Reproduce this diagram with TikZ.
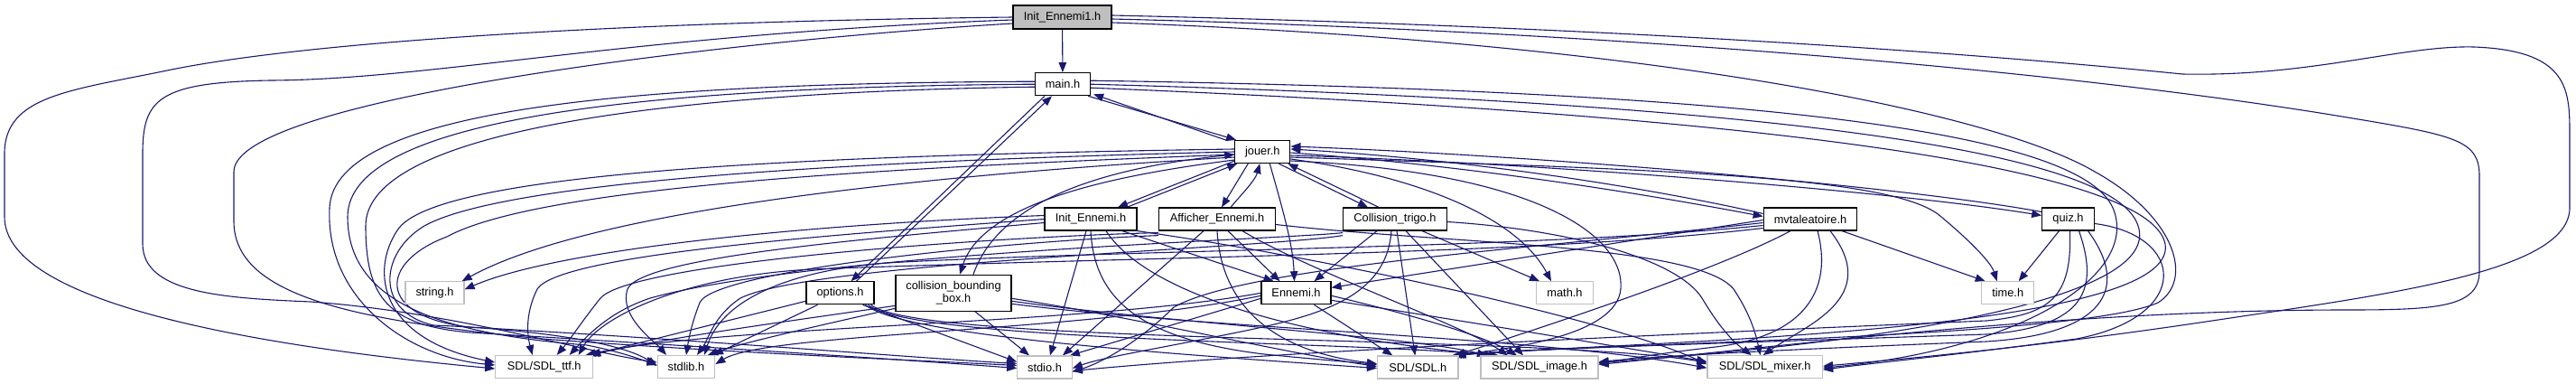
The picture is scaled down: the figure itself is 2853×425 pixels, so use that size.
\documentclass[tikz,border=0pt]{standalone}
\usepackage{fontspec}
\setmainfont{Liberation Sans}
\usetikzlibrary{arrows.meta}
\definecolor{edgec}{HTML}{191970}
\definecolor{rootfill}{HTML}{BFBFBF}
\definecolor{extb}{HTML}{BFBFBF}
\pgfdeclarelayer{bg}
\pgfsetlayers{bg,main}
\begin{document}
\begin{tikzpicture}[x=1pt,y=-1pt,
  every node/.style={font=\fontsize{12.8}{14}\selectfont},
  box/.style={draw=black, line width=1.2pt, fill=white, inner sep=0pt, minimum height=25pt},
  ext/.style={draw=extb, line width=1.2pt, fill=white, inner sep=0pt, minimum height=25pt},
  rootbox/.style={box, fill=rootfill, minimum height=26pt},
  e/.style={draw=edgec, line width=1.1pt, -{Triangle[length=11pt,width=8.5pt]}}]
\useasboundingbox (0,0) rectangle (2853,425);
% nodes
\node[rootbox, minimum width=109pt] (root) at (1176.5,19) {Init\_Ennemi1.h};
\node[box, minimum width=61pt] (main) at (1177,93.2) {main.h};
\node[box, minimum width=61pt] (jouer) at (1398.3,168) {jouer.h};
\node[box, minimum width=102pt] (initE) at (1208,242.5) {Init\_Ennemi.h};
\node[box, minimum width=129pt] (affE) at (1348,242.5) {Afficher\_Ennemi.h};
\node[box, minimum width=114.5pt] (coll) at (1545,242.5) {Collision\_trigo.h};
\node[box, minimum width=103.5pt] (mvt) at (2005,242.5) {mvtaleatoire.h};
\node[box, minimum width=57.5pt] (quiz) at (2290.5,242.5) {quiz.h};
\node[box, minimum width=75pt] (options) at (930.5,324.3) {options.h};
\node[box, minimum width=128pt, minimum height=40pt, align=center] (cbb) at (1056,324.3) {collision\_bounding\\\_box.h};
\node[ext, minimum width=65pt] (string) at (481.5,324.3) {string.h};
\node[box, minimum width=77pt] (ennemi) at (1435.5,324.3) {Ennemi.h};
\node[ext, minimum width=62.5pt] (math) at (1733,324.3) {math.h};
\node[ext, minimum width=58pt] (time) at (2223.7,324.3) {time.h};
\node[ext, minimum width=108pt] (ttf) at (602.7,406) {SDL/SDL\_ttf.h};
\node[ext, minimum width=63.5pt] (stdlib) at (760,406) {stdlib.h};
\node[ext, minimum width=60.5pt] (stdio) at (1157,406.5) {stdio.h};
\node[ext, minimum width=89.5pt] (sdl) at (1570.3,406.5) {SDL/SDL.h};
\node[ext, minimum width=130pt] (img) at (1705,406.5) {SDL/SDL\_image.h};
\node[ext, minimum width=127.5pt] (mixer) at (1954.7,406.2) {SDL/SDL\_mixer.h};

\begin{pgfonlayer}{bg}
\fill[white] (0,0) rectangle (2853,425);
% ---- root
\draw[e] (root) -- (main);
\draw[e] (root.west) .. controls (700,24) and (350,45) .. (190,77) .. controls (80,100) and (5,105) .. (5,170) -- (5,240) .. controls (5,330) and (250,380) .. ([yshift=-2pt]ttf.west);
\draw[e] ([yshift=-3pt]root.west) .. controls (700,38) and (480,88) .. (300,89) .. controls (175,91) and (158,110) .. (158,170) -- (158,270) .. controls (158,325) and (250,330) .. (344,334) .. controls (500,345) and (650,390) .. ([yshift=5pt]stdlib.west);
\draw[e] ([yshift=-7pt]root.west) .. controls (800,45) and (259,110) .. (259,190) -- (259,245) .. controls (259,330) and (400,355) .. (600,375) .. controls (800,390) and (1000,398) .. ([yshift=2pt]stdio.west);
\draw[e] ([yshift=2pt]root.east) .. controls (1800,30) and (2200,60) .. (2417,82) .. controls (2560,85) and (2660,50) .. (2740,52) .. controls (2846,56) and (2846,100) .. (2846,150) -- (2846,230) .. controls (2846,300) and (2650,325) .. (2450,355) .. controls (2250,385) and (2100,398) .. ([yshift=1pt]mixer.east);
\draw[e] ([yshift=-2pt]root.east) .. controls (1800,35) and (2300,80) .. (2600,130) .. controls (2720,150) and (2746,155) .. (2746,195) -- (2746,300) .. controls (2746,340) and (2700,343) .. (2600,343) .. controls (2300,343) and (2000,380) .. ([yshift=3pt]img.east);
\draw[e] ([yshift=-6pt]root.east) .. controls (1800,45) and (2200,120) .. (2320,190) .. controls (2410,240) and (2430,310) .. (2390,335) .. controls (2300,375) and (1750,380) .. ([xshift=-3pt]sdl.north east);
% ---- main
\draw[e] ([xshift=-3pt]main.south east) -- ([xshift=2pt]jouer.north west);
\draw[e] ([xshift=-7pt,yshift=-1pt]jouer.north west) -- ([xshift=3pt,yshift=2pt]main.south east);
\draw[e] ([xshift=-20pt]main.south) -- ([xshift=12pt]options.north);
\draw[e] ([xshift=18pt]options.north) -- ([xshift=-12pt]main.south);
\draw[e] ([yshift=3pt]main.west) .. controls (700,92) and (370,120) .. (365,230) .. controls (360,330) and (450,395) .. ([yshift=2pt]ttf.west);
\draw[e] (main.west) .. controls (720,96) and (385,130) .. (385,240) .. controls (385,340) and (500,370) .. (650,382) .. controls (690,390) and (710,398) .. ([yshift=2pt]stdlib.west);
\draw[e] ([yshift=-3pt]main.west) .. controls (740,102) and (405,145) .. (405,250) .. controls (405,330) and (430,360) .. (520,368) .. controls (800,385) and (1000,398) .. ([yshift=-1pt]stdio.west);
\draw[e] ([yshift=4pt]main.east) .. controls (1900,100) and (2300,140) .. (2340,230) .. controls (2370,300) and (2250,385) .. ([yshift=-1pt]mixer.east);
\draw[e] (main.east) .. controls (1900,112) and (2340,160) .. (2368,250) .. controls (2395,330) and (2100,378) .. ([yshift=5pt]img.east);
\draw[e] ([yshift=-4pt]main.east) .. controls (1900,125) and (2380,180) .. (2398,270) .. controls (2415,370) and (1800,378) .. ([xshift=-8pt]sdl.north east);
% ---- jouer
\draw[e] ([yshift=3pt]jouer.south west) -- ([xshift=30pt]initE.north);
\draw[e] ([xshift=40pt]initE.north) -- ([xshift=3pt]jouer.south west);
\draw[e] ([xshift=-16pt]jouer.south) -- ([xshift=5pt]affE.north);
\draw[e] ([xshift=15pt]affE.north) .. controls (1375,215) and (1390,200) .. ([xshift=-3pt]jouer.south);
\draw[e] ([xshift=18pt]jouer.south) -- ([xshift=-30pt]coll.north);
\draw[e] ([xshift=-18pt]coll.north) -- ([xshift=-3pt]jouer.south east);
\draw[e] ([xshift=8pt]jouer.south) .. controls (1420,230) and (1432,270) .. ([xshift=-2pt]ennemi.north);
\draw[e] ([yshift=-1pt]jouer.east) .. controls (1650,185) and (1850,220) .. ([yshift=3pt]mvt.west);
\draw[e] ([yshift=6pt]mvt.west) .. controls (1850,213) and (1650,178) .. ([yshift=3pt]jouer.east);
\draw[e] ([yshift=-4pt]jouer.east) .. controls (1700,180) and (2100,212) .. ([yshift=4pt]quiz.west);
\draw[e] ([yshift=8pt]quiz.west) .. controls (2100,205) and (1700,172) .. ([yshift=6pt]jouer.east);
\draw[e] ([yshift=-8pt]jouer.east) .. controls (1570,195) and (1680,240) .. ([xshift=-15pt]math.north);
\draw[e] ([yshift=-10pt]jouer.east) .. controls (1700,190) and (1800,260) .. (1795,320) .. controls (1790,370) and (1680,385) .. ([xshift=-6pt]sdl.north east);
\draw[e] ([yshift=-6pt]jouer.east) .. controls (1850,188) and (2100,195) .. (2150,240) .. controls (2180,265) and (2205,290) .. ([xshift=-12pt]time.north);
\draw[e] ([yshift=-6pt]jouer.west) .. controls (1000,195) and (650,235) .. ([xshift=-3pt]string.north east);
\draw[e] ([yshift=-9pt]jouer.west) .. controls (1250,192) and (1090,220) .. ([xshift=7pt]cbb.north);
\draw[e] ([xshift=22pt]cbb.north) .. controls (1100,240) and (1180,190) .. ([yshift=-3pt]jouer.west);
\draw[e] ([yshift=3pt]jouer.west) .. controls (900,172) and (480,190) .. (440,255) .. controls (410,300) and (420,375) .. ([yshift=5pt]ttf.west);
\draw[e] (jouer.west) .. controls (950,178) and (560,200) .. (470,250) .. controls (420,280) and (415,345) .. (480,360) .. controls (600,365) and (690,380) .. ([yshift=1pt]stdlib.west);
\draw[e] ([yshift=-3pt]jouer.west) .. controls (1000,185) and (600,205) .. (495,262) .. controls (420,290) and (415,350) .. (520,362) .. controls (800,378) and (1000,395) .. ([yshift=4pt]stdio.west);
% ---- Init_Ennemi
\draw[e] ([xshift=35pt]initE.south) -- ([xshift=-25pt]ennemi.north);
\draw[e] ([xshift=-5pt]initE.south) -- ([xshift=6pt]stdio.north);
\draw[e] (initE.south) .. controls (1212,330) and (1260,375) .. (1400,392) .. controls (1460,398) and (1500,401) .. ([yshift=3pt]sdl.west);
\draw[e] ([xshift=17pt]initE.south) .. controls (1280,340) and (1500,380) .. ([xshift=-45pt]img.north);
\draw[e] (initE.south east) .. controls (1500,290) and (1800,360) .. ([yshift=3pt]mixer.west);
\draw[e] ([yshift=4pt]initE.west) .. controls (900,248) and (620,275) .. ([yshift=4pt]string.east);
\draw[e] (initE.west) .. controls (950,258) and (620,280) .. (595,320) .. controls (580,350) and (585,375) .. ([xshift=-13pt]ttf.north);
\draw[e] ([yshift=-4pt]initE.west) .. controls (950,265) and (710,285) .. (695,320) .. controls (685,350) and (725,378) .. ([xshift=-22pt]stdlib.north);
% ---- Afficher_Ennemi
\draw[e] ([xshift=12pt]affE.south) -- ([xshift=-18pt]ennemi.north);
\draw[e] ([xshift=-15pt]affE.south) -- ([xshift=20pt]stdio.north);
\draw[e] (affE.south) .. controls (1352,330) and (1400,388) .. ([yshift=4pt]sdl.west);
\draw[e] ([xshift=28pt]affE.south) .. controls (1450,300) and (1620,360) .. ([xshift=-35pt]img.north);
\draw[e] ([yshift=-6pt]affE.east) .. controls (1600,270) and (1880,270) .. (1920,320) .. controls (1940,350) and (1945,372) .. ([xshift=-5pt]mixer.north);
\draw[e] ([yshift=-2pt]affE.south west) .. controls (1100,262) and (700,290) .. (665,330) .. controls (645,355) and (632,375) .. ([xshift=14pt]ttf.north);
\draw[e] ([yshift=-5pt]affE.south west) .. controls (1100,268) and (790,300) .. (775,335) .. controls (765,360) and (762,380) .. (stdlib.north);
% ---- Collision_trigo
\draw[e] ([xshift=-20pt]coll.south) -- ([xshift=20pt]ennemi.north);
\draw[e] ([xshift=30pt]coll.south) -- ([xshift=-28pt]math.north);
\draw[e] ([xshift=2pt]coll.south) -- ([xshift=-3pt]sdl.north);
\draw[e] ([xshift=12pt]coll.south) -- ([xshift=-18pt]img.north);
\draw[e] ([xshift=-4pt]coll.south) .. controls (1535,335) and (1450,352) .. (1350,372) .. controls (1270,388) and (1220,396) .. ([yshift=-1pt]stdio.east);
\draw[e] ([yshift=-3pt]coll.east) .. controls (1750,255) and (1860,290) .. (1885,330) .. controls (1900,355) and (1915,375) .. ([xshift=-15pt]mixer.north);
\draw[e] ([yshift=-2pt]coll.south west) .. controls (1420,265) and (900,280) .. (720,330) .. controls (675,345) and (650,372) .. ([xshift=28pt]ttf.north);
\draw[e] ([yshift=-5pt]coll.south west) .. controls (1400,275) and (900,290) .. (820,330) .. controls (790,350) and (785,375) .. ([xshift=12pt]stdlib.north);
% ---- mvtaleatoire
\draw[e] ([yshift=-1pt]mvt.west) -- ([yshift=6pt]ennemi.east);
\draw[e] ([xshift=35pt]mvt.south) -- ([xshift=-25pt]time.north);
\draw[e] ([xshift=-22pt]mvt.south) .. controls (1900,300) and (1700,365) .. ([xshift=-4pt]sdl.north east);
\draw[e] ([xshift=8pt]mvt.south) .. controls (2030,320) and (2000,372) .. (1900,384) .. controls (1830,392) and (1800,398) .. ([yshift=4pt]img.east);
\draw[e] ([xshift=22pt]mvt.south) .. controls (2085,330) and (2000,360) .. ([xshift=-2pt]mixer.north);
\draw[e] ([yshift=-4pt]mvt.west) .. controls (1700,275) and (1380,295) .. (1300,340) .. controls (1270,370) and (1230,398) .. ([yshift=-5pt]stdio.east);
\draw[e] ([yshift=-7pt]mvt.west) .. controls (1700,275) and (1300,275) .. (1000,290) .. controls (880,296) and (800,330) .. ([xshift=20pt]stdlib.north);
\draw[e] ([yshift=-10pt]mvt.west) .. controls (1700,282) and (1300,283) .. (900,298) .. controls (760,305) and (665,350) .. ([xshift=38pt]ttf.north);
% ---- quiz
\draw[e] ([xshift=-10pt]quiz.south) -- ([xshift=12pt]time.north);
\draw[e] ([xshift=2pt]quiz.south) .. controls (2295,330) and (2270,348) .. (2200,355) .. controls (1800,372) and (1400,390) .. ([yshift=-4pt]stdio.east);
\draw[e] ([xshift=12pt]quiz.south) .. controls (2325,320) and (2310,362) .. (2200,370) .. controls (1900,380) and (1700,386) .. ([xshift=-5pt]sdl.north east);
\draw[e] ([xshift=22pt]quiz.south) .. controls (2360,320) and (2330,370) .. (2200,378) .. controls (2000,386) and (1850,393) .. ([yshift=6pt]img.east);
\draw[e] ([yshift=-5pt]quiz.east) .. controls (2420,260) and (2430,350) .. (2300,375) .. controls (2150,395) and (2080,401) .. ([yshift=-3pt]mixer.east);
% ---- options
\draw[e] ([yshift=-9pt]options.west) -- ([xshift=-3pt]ttf.north east);
\draw[e] ([xshift=-25pt]options.south) -- ([xshift=30pt]stdlib.north);
\draw[e] ([xshift=25pt]options.south) -- ([yshift=6pt]stdio.west);
\draw[e] ([xshift=28pt]options.south) .. controls (1000,372) and (1300,392) .. ([yshift=-1pt]sdl.west);
\draw[e] ([xshift=31pt]options.south) .. controls (1010,378) and (1500,378) .. ([xshift=-50pt]img.north);
\draw[e] ([xshift=34pt]options.south) .. controls (1020,382) and (1700,370) .. ([yshift=5pt]mixer.west);
% ---- collision_bounding_box
\draw[e] ([xshift=24pt]cbb.south) -- ([xshift=-17pt]stdio.north);
\draw[e] ([yshift=-14pt]cbb.west) .. controls (900,352) and (760,370) .. ([xshift=50pt]ttf.north);
\draw[e] ([yshift=-17pt]cbb.west) .. controls (900,362) and (820,380) .. ([xshift=24pt]stdlib.north);
\draw[e] ([yshift=-6pt]cbb.east) .. controls (1250,350) and (1420,390) .. ([yshift=1pt]sdl.west);
\draw[e] ([yshift=-9pt]cbb.east) .. controls (1300,358) and (1560,372) .. ([xshift=-58pt]img.north);
\draw[e] ([yshift=-12pt]cbb.east) .. controls (1350,365) and (1700,372) .. ([yshift=-1pt]mixer.west);
% ---- Ennemi
\draw[e] ([yshift=-6pt]ennemi.west) -- ([xshift=-3pt]stdio.north east);
\draw[e] ([xshift=20pt]ennemi.south) -- ([xshift=-28pt]sdl.north);
\draw[e] ([yshift=-3pt]ennemi.east) .. controls (1550,345) and (1640,370) .. ([xshift=-25pt]img.north);
\draw[e] ([yshift=-8pt]ennemi.east) .. controls (1650,360) and (1800,385) .. ([yshift=6pt]mixer.west);
\draw[e] (ennemi.west) .. controls (1200,360) and (800,360) .. ([xshift=46pt]ttf.north);
\draw[e] ([yshift=-3pt]ennemi.west) .. controls (1200,368) and (850,368) .. ([yshift=3pt]stdlib.east);
\end{pgfonlayer}
\end{tikzpicture}
\end{document}
